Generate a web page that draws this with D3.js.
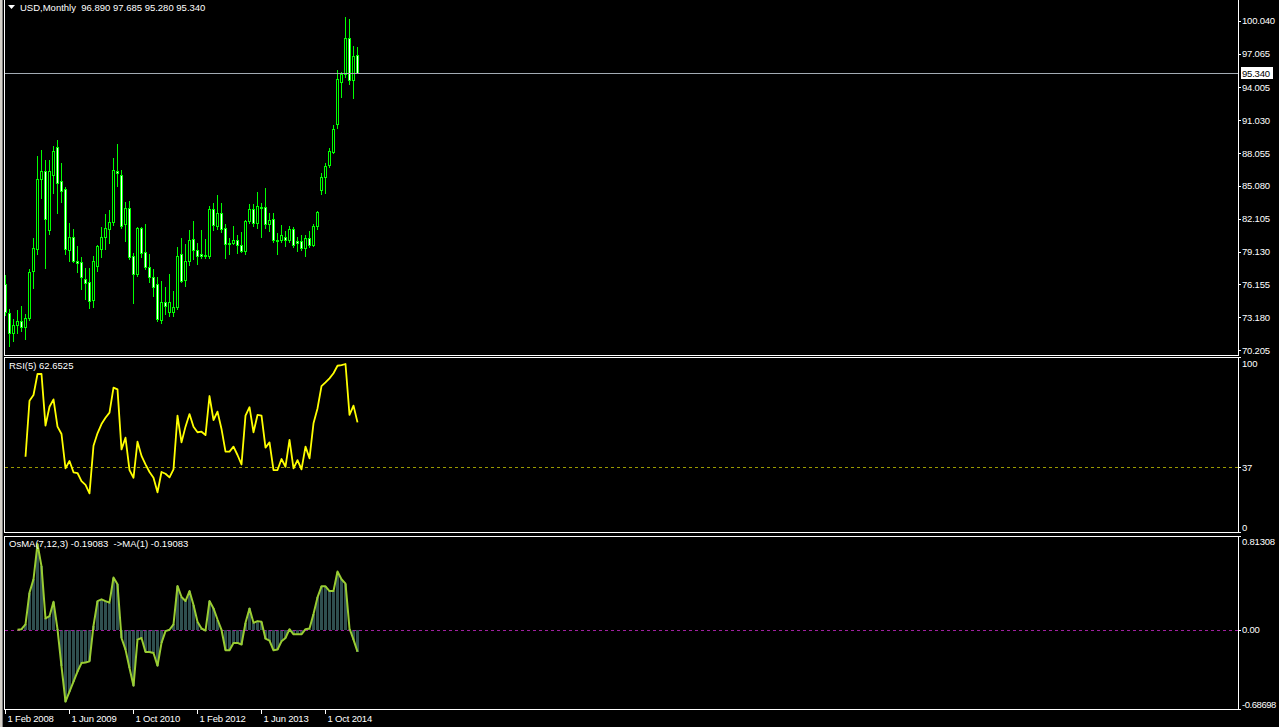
<!DOCTYPE html>
<html lang="en">
<head>
<meta charset="utf-8" />
<title>USD,Monthly</title>
<script src="https://cdn.jsdelivr.net/npm/d3@7"></script>
<style>
  body { margin: 0; background: #000; }
  svg { display: block; }
  text { font-family: "Liberation Sans", Arial, sans-serif; font-size: 9.5px; fill: #fff; }
  .frame { stroke: #fff; stroke-width: 1px; fill: none; shape-rendering: crispEdges; }
  .wick { stroke: #00ff00; stroke-width: 1px; shape-rendering: crispEdges; }
  .body { stroke: #00ff00; stroke-width: 1px; shape-rendering: crispEdges; }
  .bull { fill: #000; }
  .bear { fill: #fff; }
  .bid-line { stroke: #a3abb4; stroke-width: 1px; shape-rendering: crispEdges; }
  .rsi-line { fill: none; stroke: #ffff00; stroke-width: 1.8px; stroke-linejoin: round; }
  .rsi-level { stroke: #9a9a00; stroke-width: 1px; stroke-dasharray: 3, 3; shape-rendering: crispEdges; }
  .osma-bar { fill: #2f4f4f; shape-rendering: crispEdges; }
  .osma-line { fill: none; stroke: #9acd32; stroke-width: 2px; stroke-linejoin: round; }
  .zero-level { stroke: #a020a0; stroke-width: 1px; stroke-dasharray: 3, 3; shape-rendering: crispEdges; }
  .axis .domain { display: none; }
  .axis line { stroke: #fff; shape-rendering: crispEdges; }
  .axis text { fill: #fff; font-family: "Liberation Sans", Arial, sans-serif; font-size: 9.5px; letter-spacing: -0.2px; }
</style>
</head>
<body>
<script>
  // monthly candles, Feb 2008 .. Jun 2015
  var opens = [76.19, 73.53, 71.78, 72.45, 72.81, 72.33, 73.08, 77.40, 79.33, 85.67,
    86.40, 81.05, 86.03, 88.57, 85.49, 84.77, 79.24, 80.42, 78.24, 78.15,
    76.61, 76.40, 74.77, 77.85, 79.39, 80.42, 81.17, 81.78, 86.40, 86.03,
    81.63, 83.04, 78.70, 77.07, 81.23, 79.06, 77.70, 76.79, 76.16, 72.90,
    74.53, 73.62, 73.68, 74.08, 78.88, 76.52, 78.24, 80.24, 79.24, 78.88,
    78.78, 78.70, 82.95, 81.41, 82.59, 81.23, 79.87, 79.87, 80.15, 79.69,
    79.15, 81.87, 82.95, 81.68, 83.13, 83.13, 81.59, 82.05, 80.15, 80.15,
    80.42, 80.15, 81.14, 80.05, 80.05, 79.42, 80.33, 79.69, 81.41, 84.71,
    85.86, 86.97, 88.18, 90.71, 94.52, 95.21, 98.44, 94.70, 96.89];
  var highs = [77.01, 73.93, 73.02, 73.83, 74.20, 73.47, 77.52, 80.36, 87.78, 88.33,
    87.42, 87.42, 88.72, 89.23, 87.18, 84.95, 81.69, 81.17, 79.60, 78.67,
    77.64, 77.61, 78.70, 79.69, 81.32, 82.53, 82.89, 87.60, 88.87, 86.52,
    83.62, 83.68, 78.97, 81.32, 81.32, 81.63, 78.88, 77.52, 76.79, 76.49,
    75.95, 77.07, 75.56, 79.51, 80.36, 79.78, 81.08, 81.90, 79.87, 81.08,
    80.27, 83.26, 83.53, 84.25, 83.53, 81.59, 80.33, 81.44, 80.63, 80.90,
    81.96, 83.44, 83.44, 84.52, 83.53, 84.89, 82.59, 82.59, 80.78, 81.50,
    80.96, 81.41, 81.32, 80.42, 80.60, 80.60, 80.96, 81.59, 82.77, 86.22,
    87.12, 88.51, 90.59, 95.58, 95.42, 100.37, 100.19, 97.75, 97.685];
  var lows = [73.38, 70.60, 71.03, 71.78, 71.96, 71.21, 72.93, 75.86, 78.94, 84.01,
    77.67, 80.75, 84.46, 82.59, 83.65, 78.94, 78.30, 78.21, 77.31, 75.77,
    74.86, 74.05, 74.14, 77.40, 78.61, 79.33, 79.93, 81.50, 85.04, 81.29,
    80.05, 78.43, 74.50, 76.90, 78.60, 77.52, 76.40, 75.10, 72.80, 72.63,
    73.44, 73.32, 73.32, 73.90, 76.34, 76.00, 77.88, 78.43, 78.03, 78.51,
    78.51, 78.51, 81.05, 81.20, 80.87, 78.51, 78.88, 79.78, 78.97, 79.06,
    78.88, 81.68, 81.41, 81.23, 80.42, 81.30, 81.00, 79.96, 78.88, 79.96,
    79.60, 79.96, 79.51, 79.15, 79.24, 78.76, 79.51, 79.60, 81.14, 84.32,
    84.43, 86.81, 88.03, 90.35, 93.16, 94.97, 94.31, 93.07, 95.28];
  var closes = [73.68, 71.72, 72.45, 72.81, 72.33, 73.14, 77.25, 79.42, 85.67, 86.40,
    82.05, 86.40, 88.21, 85.37, 84.64, 79.33, 80.42, 78.30, 78.06, 76.79,
    76.31, 74.68, 78.24, 79.60, 80.42, 81.23, 81.78, 86.52, 86.24, 81.47,
    83.04, 78.61, 77.07, 81.23, 78.97, 77.70, 76.79, 75.95, 72.99, 74.53,
    74.23, 74.59, 74.08, 78.70, 76.43, 78.24, 80.15, 79.24, 78.70, 78.70,
    78.70, 82.95, 81.50, 82.59, 81.14, 79.78, 79.90, 80.15, 79.69, 79.15,
    81.87, 82.95, 81.68, 83.23, 83.10, 81.59, 81.96, 80.15, 80.12, 80.60,
    80.15, 81.14, 79.69, 79.87, 79.42, 80.33, 79.69, 81.41, 82.68, 85.86,
    86.88, 88.24, 90.23, 94.76, 95.21, 98.44, 94.70, 96.81, 95.34];

  // RSI(5), first value at bar 5
  var rsiStart = 5;
  var rsiValues = [43.0, 75.0, 78.3, 90.3, 90.3, 60.8, 71.6, 75.8, 60.2, 56.0,
    36.4, 40.6, 34.1, 33.7, 29.1, 26.9, 22.1, 49.3, 56.4, 61.7,
    65.3, 68.2, 82.5, 81.5, 47.2, 53.9, 35.4, 31.0, 51.6, 43.5,
    38.6, 34.3, 31.0, 22.7, 34.3, 33.3, 31.2, 35.8, 66.5, 51.2,
    60.2, 67.4, 60.2, 57.0, 57.3, 55.4, 77.7, 64.0, 68.8, 58.9,
    45.9, 45.9, 48.8, 44.0, 38.6, 66.5, 71.3, 57.0, 66.9, 66.5,
    48.2, 51.2, 35.4, 35.4, 41.7, 37.3, 52.6, 36.4, 41.1, 35.8,
    48.8, 42.1, 62.1, 70.6, 83.4, 85.5, 87.8, 90.7, 95.0, 95.4,
    96.0, 66.9, 72.2, 62.6525];
  var rsiLevel = 37;

  // OsMA(7,12,3), first value at bar 3
  var osmaStart = 3;
  var osmaValues = [0, 0.005, 0.046, 0.322, 0.438, 0.743, 0.55, 0.098, 0.118, 0.243,
    0.005, -0.318, -0.623, -0.536, -0.449, -0.362, -0.289, -0.283, -0.274, 0.035,
    0.249, 0.264, 0.249, 0.235, 0.453, 0.395, -0.071, -0.172, -0.332, -0.486,
    -0.085, -0.071, -0.193, -0.193, -0.202, -0.312, -0.114, -0.012, 0, 0.046,
    0.380, 0.284, 0.249, 0.336, 0.214, 0.069, 0.011, -0.007, 0.249, 0.185,
    0.089, 0, -0.178, -0.178, -0.114, -0.114, -0.128, 0.060, 0.185, 0.060,
    0.075, 0.069, -0.077, -0.094, -0.178, -0.172, -0.100, -0.071, 0.005, -0.039,
    -0.039, -0.039, 0.005, 0.011, 0.136, 0.281, 0.377, 0.377, 0.336, 0.336,
    0.505, 0.438, 0.400, 0.011, -0.085, -0.19083];

  var priceLabels = ["100.040", "97.065", "94.005", "91.030", "88.055", "85.080",
    "82.105", "79.130", "76.155", "73.180", "70.205"];
  var rsiTicks = [100, 37, 0];
  var osmaTicks = [0.81308, 0, -0.68698];
  var osmaLabels = ["0.81308", "0.00", "-0.68698"];
  var dateTicks = [0, 16, 32, 48, 64, 80];
  var dateLabels = ["1 Feb 2008", "1 Jun 2009", "1 Oct 2010", "1 Feb 2012", "1 Jun 2013", "1 Oct 2014"];

  var title = "USD,Monthly  96.890 97.685 95.280 95.340";
  var rsiTitle = "RSI(5) 62.6525";
  var osmaTitle = "OsMA(7,12,3) -0.19083  ->MA(1) -0.19083";

  var w = 1279;
  var h = 727;
  var left = 4, right = 1238;
  var main = { top: 0, bottom: 355 };
  var rsiPane = { top: 357, bottom: 532 };
  var osmaPane = { top: 536, bottom: 709 };

  var svg = d3.select("body").append("svg")
    .attr("width", w)
    .attr("height", h);

  svg.append("rect").attr("width", w).attr("height", h).attr("fill", "#000");
  // window edge on the left
  svg.append("rect").attr("x", 0).attr("y", 0).attr("width", 2).attr("height", h).attr("fill", "#d4d0c8");
  svg.append("rect").attr("x", 2).attr("y", 0).attr("width", 1).attr("height", h).attr("fill", "#808080");

  var xScale = d3.scaleLinear().domain([0, 88]).range([5.5, 357.5]);
  var yPrice = d3.scaleLinear().domain([70.205, 100.04]).range([350.1, 20.7]);
  var yRsi = d3.scaleLinear().domain([0, 100]).range([rsiPane.bottom, rsiPane.top]);
  var yOsma = d3.scaleLinear().domain([-0.68698, 0.81308]).range([osmaPane.bottom, osmaPane.top]);

  function px(v) { return Math.round(v) + 0.5; }

  // ---- main pane: candles
  var candles = d3.range(opens.length);

  svg.append("g").selectAll("line")
    .data(candles)
    .enter()
    .append("line")
    .attr("class", "wick")
    .attr("x1", function(i) { return xScale(i); })
    .attr("x2", function(i) { return xScale(i); })
    .attr("y1", function(i) { return Math.round(yPrice(highs[i])); })
    .attr("y2", function(i) { return Math.round(yPrice(lows[i])) + 1; });

  svg.append("g").selectAll("rect")
    .data(candles)
    .enter()
    .append("rect")
    .attr("class", function(i) { return "body " + (closes[i] < opens[i] ? "bear" : "bull"); })
    .attr("x", function(i) { return xScale(i) - 1; })
    .attr("width", 2)
    .attr("y", function(i) { return px(yPrice(Math.max(opens[i], closes[i]))); })
    .attr("height", function(i) {
      var t = Math.round(yPrice(Math.max(opens[i], closes[i])));
      var b = Math.round(yPrice(Math.min(opens[i], closes[i])));
      return Math.max(1, b - t);
    });

  var last = closes[closes.length - 1];
  svg.append("line")
    .attr("class", "bid-line")
    .attr("x1", left + 1).attr("x2", right)
    .attr("y1", px(yPrice(last))).attr("y2", px(yPrice(last)));

  svg.append("path")
    .attr("d", "M8,5 L15,5 L11.5,9 Z")
    .attr("fill", "#fff");
  svg.append("text").attr("x", 20).attr("y", 11)
    .attr("xml:space", "preserve").style("white-space", "pre")
    .text(title);

  var priceAxis = d3.axisRight(yPrice)
    .tickValues(priceLabels.map(Number))
    .tickFormat(function(d, k) { return priceLabels[k]; })
    .tickSize(3)
    .tickPadding(1);
  svg.append("g")
    .attr("class", "axis")
    .attr("transform", "translate(" + right + ",0)")
    .call(priceAxis);

  // last price marker
  var ly = Math.round(yPrice(last));
  svg.append("rect")
    .attr("x", right + 3).attr("y", ly - 6)
    .attr("width", 32).attr("height", 12)
    .attr("fill", "#fff");
  svg.append("text")
    .attr("x", right + 4).attr("y", ly + 3.5)
    .style("fill", "#000")
    .style("letter-spacing", "-0.2px")
    .text(last.toFixed(3));

  // ---- RSI pane
  svg.append("line")
    .attr("class", "rsi-level")
    .attr("x1", left + 1).attr("x2", right + 3)
    .attr("y1", px(yRsi(rsiLevel))).attr("y2", px(yRsi(rsiLevel)));

  var rsiLine = d3.line()
    .x(function(d, k) { return xScale(rsiStart + k); })
    .y(function(d) { return yRsi(d); });
  svg.append("path")
    .datum(rsiValues)
    .attr("class", "rsi-line")
    .attr("d", rsiLine);

  svg.append("text").attr("x", 9).attr("y", 369).text(rsiTitle);

  var rsiAxis = d3.axisRight(yRsi)
    .tickValues(rsiTicks)
    .tickFormat(d3.format("d"))
    .tickSize(3)
    .tickPadding(1);
  var rsiG = svg.append("g")
    .attr("class", "axis")
    .attr("transform", "translate(" + right + ",0)")
    .call(rsiAxis);
  rsiG.selectAll(".tick text")
    .attr("y", function(d) { return d === 100 ? 6 : (d === 0 ? -5 : 0); });

  // ---- OsMA pane
  var zeroY = yOsma(0);
  svg.append("g").selectAll("rect")
    .data(osmaValues)
    .enter()
    .append("rect")
    .attr("class", "osma-bar")
    .attr("x", function(d, k) { return xScale(osmaStart + k) - 1.5; })
    .attr("width", 3)
    .attr("y", function(d) { return Math.min(zeroY, yOsma(d)); })
    .attr("height", function(d) { return Math.abs(yOsma(d) - zeroY); });

  svg.append("line")
    .attr("class", "zero-level")
    .attr("x1", left + 1).attr("x2", right + 3)
    .attr("y1", px(zeroY)).attr("y2", px(zeroY));

  var osmaLine = d3.line()
    .x(function(d, k) { return xScale(osmaStart + k); })
    .y(function(d) { return yOsma(d); });
  svg.append("path")
    .datum(osmaValues)
    .attr("class", "osma-line")
    .attr("d", osmaLine);

  svg.append("text").attr("x", 9).attr("y", 547)
    .attr("xml:space", "preserve").style("white-space", "pre")
    .text(osmaTitle);

  var osmaAxis = d3.axisRight(yOsma)
    .tickValues(osmaTicks)
    .tickFormat(function(d, k) { return osmaLabels[k]; })
    .tickSize(3)
    .tickPadding(1);
  var osmaG = svg.append("g")
    .attr("class", "axis")
    .attr("transform", "translate(" + right + ",0)")
    .call(osmaAxis);
  osmaG.selectAll(".tick text")
    .attr("y", function(d) { return d > 0 ? 5 : (d < 0 ? -5 : 0); })
    .style("letter-spacing", function(d) { return d < 0 ? "-0.45px" : null; });

  // ---- pane frames
  svg.append("path")
    .attr("class", "frame")
    .attr("d", "M" + (left + 0.5) + "," + main.top + " V" + (main.bottom + 0.5) +
      " H" + (right + 0.5) + " V" + main.top);
  [rsiPane, osmaPane].forEach(function(p) {
    svg.append("rect")
      .attr("class", "frame")
      .attr("x", left + 0.5).attr("y", p.top + 0.5)
      .attr("width", right - left).attr("height", p.bottom - p.top);
  });

  // ---- time axis
  var timeAxis = d3.axisBottom(xScale)
    .tickValues(dateTicks)
    .tickFormat(function(d, k) { return dateLabels[k]; })
    .tickSize(4)
    .tickPadding(2);
  var timeG = svg.append("g")
    .attr("class", "axis")
    .attr("transform", "translate(-0.5," + (osmaPane.bottom + 0.5) + ")")
    .call(timeAxis);
  timeG.selectAll(".tick text")
    .attr("text-anchor", "start")
    .attr("x", 2);
</script>
</body>
</html>
